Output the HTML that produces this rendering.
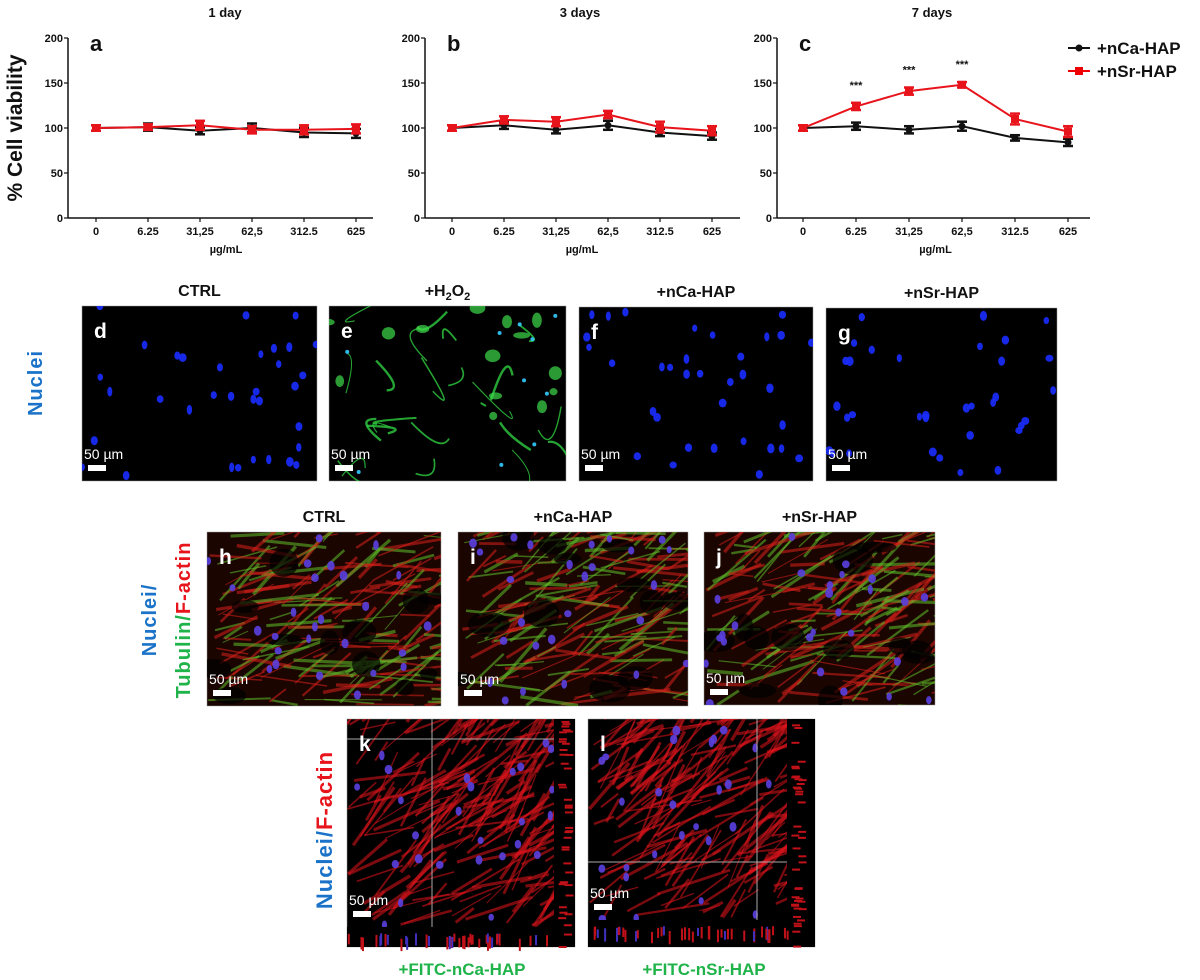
<!DOCTYPE html>
<html><head><meta charset="utf-8"><style>
html,body{margin:0;padding:0;background:#fff;width:1200px;height:980px;overflow:hidden}
svg{display:block;font-family:"Liberation Sans",Arial,sans-serif}
</style></head><body>
<svg id="fig" width="1200" height="980" viewBox="0 0 1200 980" xmlns="http://www.w3.org/2000/svg">
<text transform="translate(22,128) rotate(-90)" text-anchor="middle" font-size="21" font-weight="bold" fill="#111">% Cell viability</text>
<g font-size="17" font-weight="bold">
 <line x1="1068" y1="48" x2="1090" y2="48" stroke="#111" stroke-width="2"/><circle cx="1079" cy="48" r="3.5" fill="#111"/>
 <text x="1097" y="54" fill="#111">+nCa-HAP</text>
 <line x1="1068" y1="71" x2="1090" y2="71" stroke="#e00" stroke-width="2"/><rect x="1075" y="67" width="8" height="8" fill="#e00"/>
 <text x="1097" y="77" fill="#111">+nSr-HAP</text>
</g>
<g id="charts"></g>
<g id="micro"></g>
<g font-weight="bold">
 <text transform="translate(42,383) rotate(-90)" text-anchor="middle" font-size="20" fill="#1a73c8" letter-spacing="1">Nuclei</text>
 <text transform="translate(156,620) rotate(-90)" text-anchor="middle" font-size="20" fill="#1a73c8" letter-spacing="1">Nuclei/</text>
 <text transform="translate(190,620) rotate(-90)" text-anchor="middle" font-size="20" letter-spacing="1"><tspan fill="#1fb34a">Tubulin/</tspan><tspan fill="#e8141c">F-actin</tspan></text>
 <text transform="translate(332,830) rotate(-90)" text-anchor="middle" font-size="22" letter-spacing="1"><tspan fill="#1a73c8">Nuclei/</tspan><tspan fill="#e8141c">F-actin</tspan></text>
 <text x="462" y="975" text-anchor="middle" font-size="17" fill="#1fb34a">+FITC-nCa-HAP</text>
 <text x="704" y="975" text-anchor="middle" font-size="17" fill="#1fb34a">+FITC-nSr-HAP</text>
</g>
</svg>
<script>
// ---- chart data ----
const categories = ["0","6.25","31,25","62,5","312.5","625"];
const yTicks = [0,50,100,150,200];
const day1Ca = [100,101,97,100,95,94];
const day1CaErr = [3,4,4,5,5,5];
const day1Sr = [100,101,103,98,98,99];
const day1SrErr = [3,3,5,4,5,5];
const day3Ca = [100,103,98,103,95,91];
const day3CaErr = [3,4,4,5,4,4];
const day3Sr = [100,109,107,115,101,97];
const day3SrErr = [3,4,5,4,6,5];
const day7Ca = [100,102,98,102,89,84];
const day7CaErr = [3,4,4,5,3,4];
const day7Sr = [100,124,141,148,110,96];
const day7SrErr = [3,4,4,3,6,6];
const day7Stars = ["","***","***","***","",""];

const NS='http://www.w3.org/2000/svg';
function mk(tag,attrs,parent){const e=document.createElementNS(NS,tag);for(const k in attrs)e.setAttribute(k,attrs[k]);if(parent)parent.appendChild(e);return e;}
const charts=document.getElementById('charts');
const panels=[
 {title:"1 day",letter:"a",ax:68,x0:96,x1:356,xe:373,ca:day1Ca,caE:day1CaErr,sr:day1Sr,srE:day1SrErr,stars:null,tx:225},
 {title:"3 days",letter:"b",ax:425,x0:452,x1:712,xe:740,ca:day3Ca,caE:day3CaErr,sr:day3Sr,srE:day3SrErr,stars:null,tx:580},
 {title:"7 days",letter:"c",ax:777,x0:803,x1:1068,xe:1090,ca:day7Ca,caE:day7CaErr,sr:day7Sr,srE:day7SrErr,stars:day7Stars,tx:932}
];
const yTop=38,yBot=218;
function ys(v){return yBot-(v/200)*(yBot-yTop);}
panels.forEach((p,pi)=>{
 const g=mk('g',{},charts);
 
 
 const xs=i=>p.x0+i*(p.x1-p.x0)/(categories.length-1);
 const t=mk('text',{x:p.tx,y:17,'text-anchor':'middle','font-size':13,'font-weight':'bold',fill:'#111'},g);t.textContent=p.title;
 
 const l=mk('text',{x:p.ax+22,y:51,'font-size':22,'font-weight':'bold',fill:'#111'},g);l.textContent=p.letter;
 
 mk('line',{x1:p.ax,y1:yTop,x2:p.ax,y2:yBot,stroke:'#111','stroke-width':1.5},g);
 mk('line',{x1:p.ax,y1:yBot,x2:p.xe,y2:yBot,stroke:'#111','stroke-width':1.5},g);
 yTicks.forEach(v=>{const y=ys(v);mk('line',{x1:p.ax-4,y1:y,x2:p.ax,y2:y,stroke:'#111','stroke-width':1.2},g);
  const tt=mk('text',{x:p.ax-5,y:y+4,'text-anchor':'end','font-size':11,'font-weight':'bold',fill:'#111'},g);tt.textContent=v;
  });
 categories.forEach((c,i)=>{const x=xs(i);mk('line',{x1:x,y1:yBot,x2:x,y2:yBot+4,stroke:'#111','stroke-width':1.2},g);
  const tt=mk('text',{x:x,y:yBot+17,'text-anchor':'middle','font-size':11,'font-weight':'bold',fill:'#111'},g);tt.textContent=c;
  });
 const xt=mk('text',{x:(p.x0+p.x1)/2,y:yBot+35,'text-anchor':'middle','font-size':11,'font-weight':'bold',fill:'#111'},g);xt.textContent='\u00b5g/mL';
 
 [[p.ca,p.caE,'#111','ca'],[p.sr,p.srE,'#e8141c','sr']].forEach(([vals,errs,col,nm])=>{
  const pl=mk('polyline',{points:vals.map((v,i)=>xs(i)+','+ys(v)).join(' '),fill:'none',stroke:col,'stroke-width':2},g);
  
  vals.forEach((v,i)=>{const x=xs(i),y=ys(v),e=errs[i];
   mk('line',{x1:x,y1:ys(v+e),x2:x,y2:ys(v-e),stroke:col,'stroke-width':2.5},g);
   mk('line',{x1:x-5,y1:ys(v+e),x2:x+5,y2:ys(v+e),stroke:col,'stroke-width':2.5},g);
   mk('line',{x1:x-5,y1:ys(v-e),x2:x+5,y2:ys(v-e),stroke:col,'stroke-width':2.5},g);
   let m;
   if(nm==='ca') m=mk('circle',{cx:x,cy:y,r:3.5,fill:col},g);
   else m=mk('rect',{x:x-4,y:y-4,width:8,height:8,fill:col},g);
   
  });
 });
 if(p.stars) p.stars.forEach((s,i)=>{if(!s)return;const tt=mk('text',{x:xs(i),y:ys(p.sr[i]+p.srE[i])-14,'text-anchor':'middle','font-size':11,'font-weight':'bold',fill:'#111'},g);tt.textContent=s;
  });
});

// ---- micrographs (decorative) ----
let seed=7;function rnd(){seed=(seed*16807)%2147483647;return seed/2147483647;}
const micro=document.getElementById('micro');
const imgs=[
 {id:'d',x:82,y:306,w:235,h:175,type:'blue',title:'CTRL'},
 {id:'e',x:329,y:306,w:237,h:175,type:'green',title:'+H2O2'},
 {id:'f',x:579,y:307,w:234,h:174,type:'blue',title:'+nCa-HAP'},
 {id:'g',x:826,y:308,w:231,h:173,type:'blue',title:'+nSr-HAP'},
 {id:'h',x:207,y:532,w:234,h:174,type:'mix',title:'CTRL'},
 {id:'i',x:458,y:532,w:230,h:174,type:'mix',title:'+nCa-HAP'},
 {id:'j',x:704,y:532,w:231,h:173,type:'mix',title:'+nSr-HAP'},
 {id:'k',x:347,y:719,w:228,h:228,type:'red',title:null,cx:432,cy:739,mw:207,mh:208},
 {id:'l',x:588,y:719,w:227,h:228,type:'red',title:null,cx:757,cy:862,mw:199,mh:201}
];
imgs.forEach(im=>{
 const g=mk('g',{},micro);
 
 
 const bg=im.type==='mix'?'#1a0500':'#000';
 mk('rect',{x:im.x,y:im.y,width:im.w,height:im.h,fill:bg,stroke:'#999','stroke-width':0.5},g);
 const cp='cp'+im.id;const cl=mk('clipPath',{id:cp},g);mk('rect',{x:im.x,y:im.y,width:im.mw||im.w,height:im.mh||im.h},cl);
 const inner=mk('g',{'clip-path':'url(#'+cp+')'},g);
 const W=im.mw||im.w,H=im.mh||im.h;
 if(im.type==='green'){
  for(let i=0;i<24;i++){const x=im.x+rnd()*W,y=im.y+rnd()*H;
   mk('path',{d:`M${x} ${y} q${rnd()*60-30} ${rnd()*60-30} ${rnd()*80-40} ${rnd()*80-40}`,stroke:'#2ecc40',fill:'none','stroke-width':1+rnd()*1.5,opacity:0.8},inner);}
  for(let i=0;i<14;i++){mk('ellipse',{cx:im.x+rnd()*W,cy:im.y+rnd()*H*0.7,rx:3+rnd()*6,ry:3+rnd()*5,fill:'#3ddc4a',opacity:0.7},inner);}
  for(let i=0;i<10;i++){mk('circle',{cx:im.x+rnd()*W,cy:im.y+rnd()*H,r:2,fill:'#3cf',opacity:0.9},inner);}
 }
 if(im.type==='mix'||im.type==='red'){
  const n=im.type==='red'?200:180;
  for(let i=0;i<n;i++){const x=im.x+rnd()*W,y=im.y+rnd()*H,a=(im.type==='red'?-1.2:-0.9)+rnd()*1.1,L=20+rnd()*60;
   const col=im.type==='red'?'#e0141c':(rnd()<0.55?'#d8201a':'#5fbf2a');
   mk('line',{x1:x,y1:y,x2:x+Math.cos(a)*L,y2:y+Math.sin(a)*L,stroke:col,'stroke-width':1+rnd()*2.5,opacity:0.55},inner);}
  if(im.type==='mix') for(let i=0;i<12;i++){mk('ellipse',{cx:im.x+rnd()*W,cy:im.y+rnd()*H,rx:8+rnd()*14,ry:5+rnd()*10,fill:'#000',opacity:0.7},inner);}
 }
 const nb=im.type==='green'?0:(im.type==='blue'?34:26);
 for(let i=0;i<nb;i++){mk('ellipse',{cx:im.x+rnd()*W,cy:im.y+rnd()*H,rx:2.5+rnd()*1.5,ry:3.5+rnd()*1.5,fill:im.type==='blue'?'#1a2cff':'#5a40e0',opacity:0.9},inner);}
 if(im.type==='red'){
  mk('rect',{x:im.x,y:im.y+H,width:im.w,height:im.h-H,fill:'#000'},g);
  mk('rect',{x:im.x+W,y:im.y,width:im.w-W,height:im.h,fill:'#000'},g);
  for(let i=0;i<40;i++){mk('rect',{x:im.x+rnd()*W,y:im.y+H+6+rnd()*6,width:2,height:8+rnd()*6,fill:rnd()<0.7?'#c01018':'#4030c0'},g);
   mk('rect',{x:im.x+W+4+rnd()*8,y:im.y+rnd()*im.h,width:8,height:2,fill:'#c01018'},g);}
  mk('line',{x1:im.x,y1:im.cy,x2:im.x+W,y2:im.cy,stroke:'#aaa','stroke-width':1},g);
  mk('line',{x1:im.cx,y1:im.y,x2:im.cx,y2:im.y+H,stroke:'#aaa','stroke-width':1},g);
 }
 const lt=mk('text',{x:im.x+12,y:im.y+32,'font-size':21,'font-weight':'bold',fill:'#fff'},g);lt.textContent=im.id;
 
 const hb=im.mh||im.h;
 const st=mk('text',{x:im.x+2,y:im.y+hb-22,'font-size':14,fill:'#fff'},g);st.textContent='50 \u00b5m';
 
 mk('rect',{x:im.x+6,y:im.y+hb-16,width:18,height:6,fill:'#fff'},g);
 if(im.title){
  const tt=mk('text',{x:im.x+im.w/2,y:im.y-10,'text-anchor':'middle','font-size':16,'font-weight':'bold',fill:'#111'},micro);
  
  if(im.title==='+H2O2'){tt.innerHTML='+H<tspan font-size="11" dy="4">2</tspan><tspan dy="-4">O</tspan><tspan font-size="11" dy="4">2</tspan>';}
  else tt.textContent=im.title;
 }
});
</script>
</body></html>
